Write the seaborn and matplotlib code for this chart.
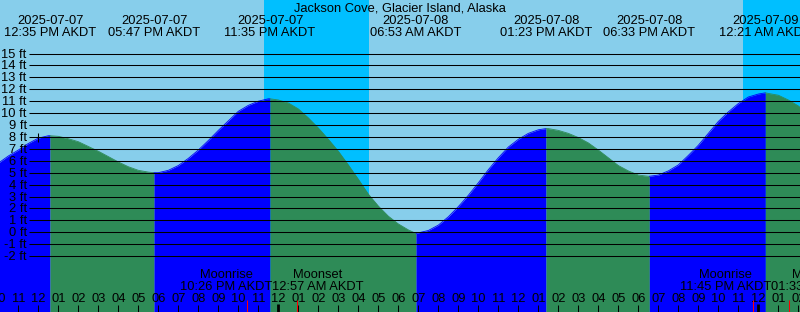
import numpy as np
import pandas as pd
import matplotlib
matplotlib.use("Agg")
import matplotlib.pyplot as plt
import matplotlib.transforms as mtransforms
import seaborn as sns

# ---------------- data ----------------
location = "Jackson Cove, Glacier Island, Alaska"
tz_label = "AKDT"

tide_event_times = ["2025-07-07 12:35", "2025-07-07 17:47", "2025-07-07 23:35",
                    "2025-07-08 06:53", "2025-07-08 13:23", "2025-07-08 18:33",
                    "2025-07-09 00:21"]
tide_event_heights = [8.1, 5.0, 11.2, -0.1, 8.7, 4.7, 11.7]

# curve heights read every half hour, 10:00 on 07-07 to 03:00 on 07-09
curve_start = "2025-07-07 10:00"
curve_end = "2025-07-09 03:00"
curve_heights = [5.8, 6.4, 6.9, 7.45, 7.9, 8.1, 8.05, 7.85, 7.6, 7.2,
                 6.8, 6.35, 5.9, 5.5, 5.2, 5.05, 5.0, 5.2, 5.6, 6.2,
                 6.9, 7.7, 8.55, 9.35, 10.15, 10.65, 11.0, 11.2, 11.1, 10.85,
                 10.35, 9.6, 8.75, 7.8, 6.8, 5.65, 4.45, 3.2, 2.2, 1.35,
                 0.7, 0.2, -0.05, 0.15, 0.6, 1.3, 2.15, 3.1, 4.15, 5.25,
                 6.25, 7.15, 7.8, 8.3, 8.6, 8.7, 8.55, 8.3, 7.95, 7.5,
                 6.9, 6.25, 5.6, 5.15, 4.8, 4.7, 4.8, 5.15, 5.65, 6.45,
                 7.3, 8.3, 9.3, 10.1, 10.8, 11.35, 11.6, 11.65, 11.5, 11.1,
                 10.6, 9.9, 9.1]

night_starts = ["2025-07-07 23:17", "2025-07-08 23:14"]
night_ends = ["2025-07-08 04:32", "2025-07-09 04:35"]

moon_event_names = ["Moonrise", "Moonset", "Moonrise", "Moonset"]
moon_event_times = ["2025-07-07 22:26", "2025-07-08 00:57",
                    "2025-07-08 23:45", "2025-07-09 01:33"]

now_time = "2025-07-07 11:58"
height_levels = list(range(-2, 16))
view_start = "2025-07-07 10:05"
view_hours = 40

# ---------------- style ----------------
sns.set_theme(style="white")
plt.rcParams["font.family"] = ["Liberation Sans", "DejaVu Sans"]
FS = 9.3
SKY = "#87CEEB"
NIGHT = "#00BFFF"
RISE = "#0000FF"
FALL = "#2E8B57"

W, H = 800, 312
ORIGIN = pd.Timestamp("2025-07-07 12:00")


def hrs(t):
    return (pd.Timestamp(t) - ORIGIN).total_seconds() / 3600.0


def fy(ypx):
    return 1.0 - ypx / H


fig = plt.figure(figsize=(W / 100, H / 100), dpi=100)
fig.patch.set_facecolor(SKY)
ax = fig.add_axes([0, 0, 1, 1])
ax.set_axis_off()
x0 = hrs(view_start)
x1 = x0 + view_hours
ax.set_xlim(x0, x1)
ybot, ytop = -6.69, 19.49
ax.set_ylim(ybot, ytop)

xdata_yaxes = mtransforms.blended_transform_factory(ax.transData, ax.transAxes)
xaxes_ydata = mtransforms.blended_transform_factory(ax.transAxes, ax.transData)

# night bands
for s, e in zip(night_starts, night_ends):
    ax.axvspan(hrs(s), hrs(e), color=NIGHT, lw=0, zorder=1)

# tide curve
curve_times = pd.date_range(curve_start, curve_end, freq="30min")
df = pd.concat([
    pd.DataFrame({"t": [hrs(t) for t in curve_times], "h": curve_heights}),
    pd.DataFrame({"t": [hrs(t) for t in tide_event_times], "h": tide_event_heights}),
]).sort_values("t").drop_duplicates("t").reset_index(drop=True)

edges = [df.t.iloc[0]] + [hrs(t) for t in tide_event_times] + [df.t.iloc[-1]]
for a, b in zip(edges[:-1], edges[1:]):
    seg = df[(df.t >= a) & (df.t <= b)]
    rising = seg.h.iloc[-1] > seg.h.iloc[0]
    c = RISE if rising else FALL
    ax.fill_between(seg.t, seg.h, ybot - 1, color=c, lw=0, zorder=2)
    sns.lineplot(x=seg.t.values, y=seg.h.values, ax=ax, color=c, lw=0.6,
                 estimator=None, sort=False, legend=False, zorder=2.1)

# height grid lines and labels
grid_x0 = x0 + 29 / 20.0
ax.hlines(height_levels, grid_x0, x1, color="black", lw=0.75, zorder=3)
lab_tr = mtransforms.offset_copy(xaxes_ydata, fig=fig, x=0, y=-4, units="dots")
for lv in height_levels:
    ax.text(26.7 / W, lv, f"{lv} ft", transform=lab_tr, ha="right",
            va="baseline", fontsize=FS, color="black", zorder=5)

# now marker
h_now = np.interp(hrs(now_time), df.t, df.h)
ax.vlines(hrs(now_time), h_now - 0.3, h_now + 0.45, color="black", lw=0.75, zorder=4)

# title and tide event labels
ax.text(0.5, fy(11.7), location, transform=ax.transAxes, ha="center",
        va="baseline", fontsize=FS, color="black")
for t in tide_event_times:
    ts = pd.Timestamp(t)
    ax.text(hrs(t), fy(24), ts.strftime("%Y-%m-%d"), transform=xdata_yaxes,
            ha="center", va="baseline", fontsize=FS, color="black", zorder=5)
    ax.text(hrs(t), fy(36), ts.strftime("%I:%M %p ") + tz_label,
            transform=xdata_yaxes, ha="center", va="baseline", fontsize=FS,
            color="black", zorder=5)

# hour ticks and labels
hour_marks = pd.date_range(pd.Timestamp(view_start).floor("h"),
                           pd.Timestamp(view_start) + pd.Timedelta(hours=view_hours),
                           freq="h")
for tm in hour_marks:
    hx = hrs(tm)
    if tm.hour == 0:
        ax.vlines(hx, 0, 7.7 / H, transform=xdata_yaxes, color="black", lw=2.0, zorder=6)
    else:
        ax.vlines(hx, 0, 7.0 / H, transform=xdata_yaxes, color="black", lw=0.75, zorder=6)
    ax.text(hx, fy(302.3), tm.strftime("%I"), transform=xdata_yaxes,
            ha="center", va="baseline", fontsize=FS, color="black", zorder=6)

# moon events
for t in moon_event_times:
    ax.vlines(hrs(t), 0, 12.0 / H, transform=xdata_yaxes, color="red", lw=0.75, zorder=6)

fig.canvas.draw()
renderer = fig.canvas.get_renderer()
for i in range(0, len(moon_event_times), 2):
    mid = (hrs(moon_event_times[i]) + hrs(moon_event_times[i + 1])) / 2
    for j, ha in ((i, "right"), (i + 1, "left")):
        ts = pd.Timestamp(moon_event_times[j])
        tt = ax.text(mid, fy(290), ts.strftime("%I:%M %p ") + tz_label,
                     transform=xdata_yaxes, ha=ha, va="baseline", fontsize=FS,
                     color="black", zorder=6)
        bb = tt.get_window_extent(renderer)
        cx = ax.transData.inverted().transform(((bb.x0 + bb.x1) / 2, 0))[0]
        ax.text(cx, fy(278.3), moon_event_names[j], transform=xdata_yaxes,
                ha="center", va="baseline", fontsize=FS, color="black", zorder=6)

fig.savefig("out.png", dpi=100, facecolor=SKY)
